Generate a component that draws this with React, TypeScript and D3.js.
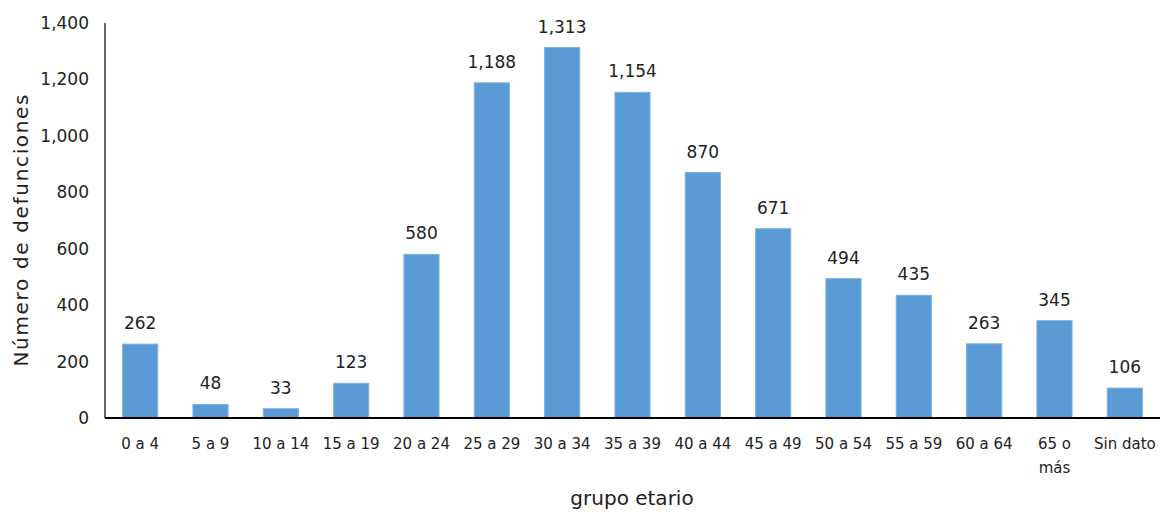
import React from "react";
import * as d3 from "d3";

const categories = ["0 a 4", "5 a 9", "10 a 14", "15 a 19", "20 a 24", "25 a 29", "30 a 34", "35 a 39", "40 a 44", "45 a 49", "50 a 54", "55 a 59", "60 a 64", "65 o más", "Sin dato"];
const values = [262, 48, 33, 123, 580, 1188, 1313, 1154, 870, 671, 494, 435, 263, 345, 106];
const yTicks = [0, 200, 400, 600, 800, 1000, 1200, 1400];

const W = 1163, H = 514;
const left = 105, right = 1160, top = 23, bottom = 418;
const FONT = "'DejaVu Sans', 'Noto Sans', sans-serif";

export default function App() {
  const x = d3.scaleBand<string>().domain(categories).range([left, right]).paddingInner(0.5).paddingOuter(0.25);
  const y = d3.scaleLinear().domain([0, 1400]).range([bottom, top]);
  const fmt = d3.format(",");
  const labelLines = (c: string) => (c === "65 o más" ? ["65 o", "más"] : [c]);
  return (
    <svg width={W} height={H} style={{ position: "absolute", left: 0, top: 0, background: "#fff" }} fontFamily={FONT}>
      {values.map((v, i) => (
        <g key={categories[i]}>
          <rect x={x(categories[i])} y={y(v)} width={x.bandwidth()} height={bottom - y(v)} fill="#5B9BD5" stroke="#7FB2E0" strokeWidth={1} />
          <text x={x(categories[i])! + x.bandwidth() / 2} y={y(v) - 15} textAnchor="middle" fontSize={17} fill="#222">{fmt(v)}</text>
        </g>
      ))}
      <line x1={left} x2={left} y1={top} y2={bottom} stroke="#000" strokeWidth={1.2} />
      <line x1={left} x2={right} y1={bottom} y2={bottom} stroke="#000" strokeWidth={2.2} />
      {yTicks.map(t => (
        <text key={t} x={left - 16} y={y(t)} dy="0.35em" textAnchor="end" fontSize={17} fill="#222">{fmt(t)}</text>
      ))}
      {categories.map(c => (
        <text key={c} x={x(c)! + x.bandwidth() / 2} y={449} textAnchor="middle" fontSize={15} fill="#222">
          {labelLines(c).map((l, j) => (
            <tspan key={j} x={x(c)! + x.bandwidth() / 2} dy={j === 0 ? 0 : 24}>{l}</tspan>
          ))}
        </text>
      ))}
      <text transform={`translate(28,${(top + bottom) / 2 + 10}) rotate(-90)`} textAnchor="middle" fontSize={20} textLength={272} lengthAdjust="spacing" fill="#222">Número de defunciones</text>
      <text x={632} y={505} textAnchor="middle" fontSize={20} fill="#222">grupo etario</text>
    </svg>
  );
}
